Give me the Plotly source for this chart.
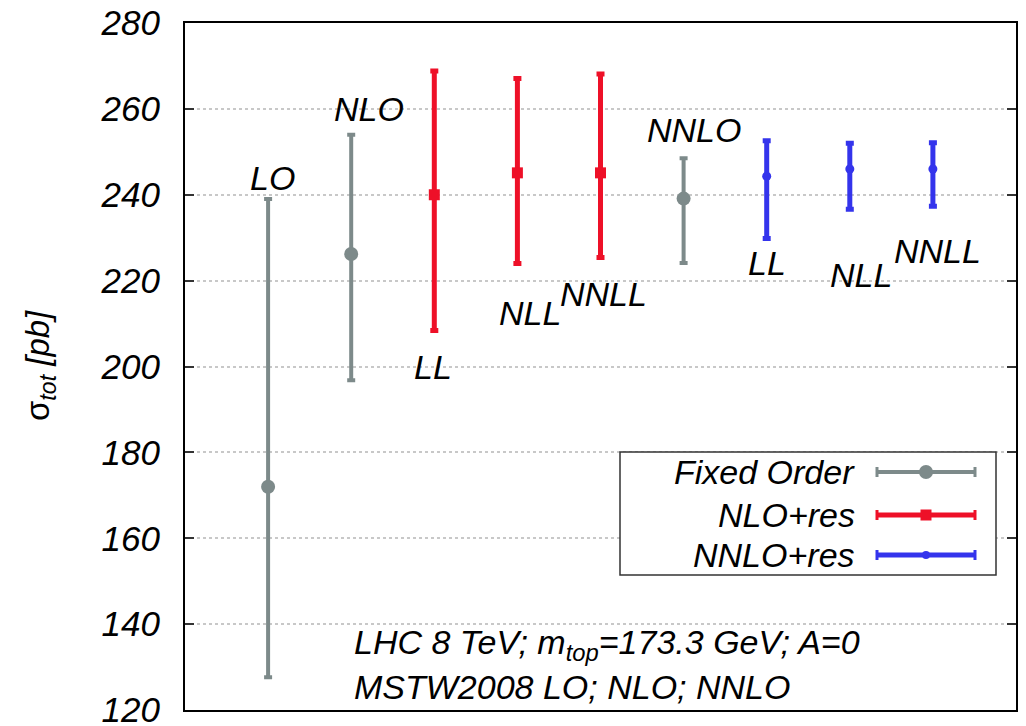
import plotly.graph_objects as go

# Total cross section sigma_tot [pb] with scale-uncertainty bands
fo_x = [1, 2, 6]
fo_val = [172.0, 226.2, 239.1]
fo_hi = [239.0, 254.0, 248.5]
fo_lo = [127.6, 196.8, 224.1]
fo_names = ["LO", "NLO", "NNLO"]

nlo_res_x = [3, 4, 5]
nlo_res_val = [240.0, 245.1, 245.1]
nlo_res_hi = [268.8, 267.1, 268.1]
nlo_res_lo = [208.4, 224.0, 225.4]
nlo_res_names = ["LL", "NLL", "NNLL"]

nnlo_res_x = [7, 8, 9]
nnlo_res_val = [244.3, 246.0, 246.0]
nnlo_res_hi = [252.6, 252.0, 252.1]
nnlo_res_lo = [229.8, 236.6, 237.3]
nnlo_res_names = ["LL", "NLL", "NNLL"]

y_ticks = [120, 140, 160, 180, 200, 220, 240, 260, 280]

GRAY = "#7d8a8a"
RED = "#ee1028"
BLUE = "#3434ec"
FONT = "Liberation Sans"

fig = go.Figure()


def add_series(xs, vals, his, los, color, symbol, msize, thick):
    fig.add_trace(go.Scatter(
        x=xs, y=vals, mode="markers",
        marker=dict(color=color, symbol=symbol, size=msize),
        error_y=dict(type="data", symmetric=False,
                     array=[h - v for h, v in zip(his, vals)],
                     arrayminus=[v - l for v, l in zip(vals, los)],
                     color=color, thickness=thick, width=4),
        showlegend=False, hoverinfo="skip"))


add_series(fo_x, fo_val, fo_hi, fo_lo, GRAY, "circle", 14, 4)
add_series(nlo_res_x, nlo_res_val, nlo_res_hi, nlo_res_lo, RED, "square", 11, 5)
add_series(nnlo_res_x, nnlo_res_val, nnlo_res_hi, nnlo_res_lo, BLUE, "circle", 9, 5)

lab_font = dict(family=FONT, size=34, color="black", style="italic")

# point labels: (x offset, y position) per point
fo_lab = [(0.05, 244.0), (0.21, 260.0), (0.12, 255.0)]
nlo_lab = [(-0.02, 199.8), (0.15, 212.4), (0.04, 217.0)]
nnlo_lab = [(0.0, 224.0), (0.14, 221.3), (0.05, 227.0)]

for xs, names, pos in [(fo_x, fo_names, fo_lab),
                       (nlo_res_x, nlo_res_names, nlo_lab),
                       (nnlo_res_x, nnlo_res_names, nnlo_lab)]:
    for x, n, (dx, y) in zip(xs, names, pos):
        fig.add_annotation(x=x + dx, y=y, text=n, showarrow=False,
                           xanchor="center", yanchor="middle", font=lab_font)


# helpers converting pixel positions inside the plot area to paper coords
def px(xp):
    return (xp - 185) / 831


def py(yp):
    return (710 - yp) / 687


info_font = dict(family=FONT, size=34, color="black", style="italic")
fig.add_annotation(x=px(352), y=py(644), xref="paper", yref="paper",
                   xanchor="left", yanchor="middle",
                   text="LHC 8 TeV; m<sub>top</sub>=173.3 GeV; A=0",
                   showarrow=False, font=info_font)
fig.add_annotation(x=px(352), y=py(687), xref="paper", yref="paper",
                   xanchor="left", yanchor="middle",
                   text="MSTW2008 LO; NLO; NNLO",
                   showarrow=False, font=info_font)

# y-axis title
fig.add_annotation(x=px(40), y=py(366), xref="paper", yref="paper",
                   xanchor="center", yanchor="middle",
                   text="σ<sub><i>tot</i></sub> <i>[pb]</i>", textangle=-90,
                   showarrow=False, font=dict(family=FONT, size=33, color="black"))

# legend box with error-bar samples
shapes = [dict(type="rect", xref="paper", yref="paper",
               x0=px(620), x1=px(996), y0=py(575), y1=py(452),
               line=dict(color="#333333", width=1.5), fillcolor="white", layer="above")]
legend_rows = [("Fixed Order", GRAY, 472, "circle", 4),
               ("NLO+res", RED, 515, "rect", 5),
               ("NNLO+res", BLUE, 555, "dot", 5)]
for name, col, yy, kind, w in legend_rows:
    shapes.append(dict(type="line", xref="paper", yref="paper",
                       x0=px(877), x1=px(975), y0=py(yy), y1=py(yy),
                       line=dict(color=col, width=w), layer="above"))
    for xc in (877, 975):
        shapes.append(dict(type="line", xref="paper", yref="paper",
                           x0=px(xc), x1=px(xc), y0=py(yy - 5), y1=py(yy + 5),
                           line=dict(color=col, width=3), layer="above"))
    r = {"circle": 7, "rect": 5.5, "dot": 4}[kind]
    shapes.append(dict(type="circle" if kind != "rect" else "rect",
                       xref="paper", yref="paper",
                       x0=px(926 - r), x1=px(926 + r), y0=py(yy + r), y1=py(yy - r),
                       fillcolor=col, line=dict(color=col, width=0), layer="above"))
    fig.add_annotation(x=px(857), y=py(yy), xref="paper", yref="paper",
                       xanchor="right", yanchor="middle", text=name, showarrow=False,
                       font=dict(family=FONT, size=34, color="black", style="italic"))

fig.update_layout(
    width=1026, height=726,
    margin=dict(l=185, r=10, t=23, b=16, autoexpand=False),
    paper_bgcolor="white", plot_bgcolor="white",
    shapes=shapes,
    xaxis=dict(range=[0, 10], showticklabels=False, ticks="", showgrid=False,
               zeroline=False, showline=True, linecolor="black", linewidth=2, mirror=True,
               automargin=False),
    yaxis=dict(range=[120, 280], tickvals=y_ticks, ticktext=[str(v) for v in y_ticks],
               ticks="inside", ticklen=9, tickwidth=2, tickcolor="#333333",
               showline=True, linecolor="black", linewidth=2, mirror="allticks",
               showgrid=True, gridcolor="#c8c8c8", gridwidth=1.5, griddash="dot",
               zeroline=False, ticklabelstandoff=16, ticklabeloverflow="allow",
               automargin=False,
               tickfont=dict(family=FONT, size=35, color="black", style="italic")),
)

fig.write_html("out.html")
